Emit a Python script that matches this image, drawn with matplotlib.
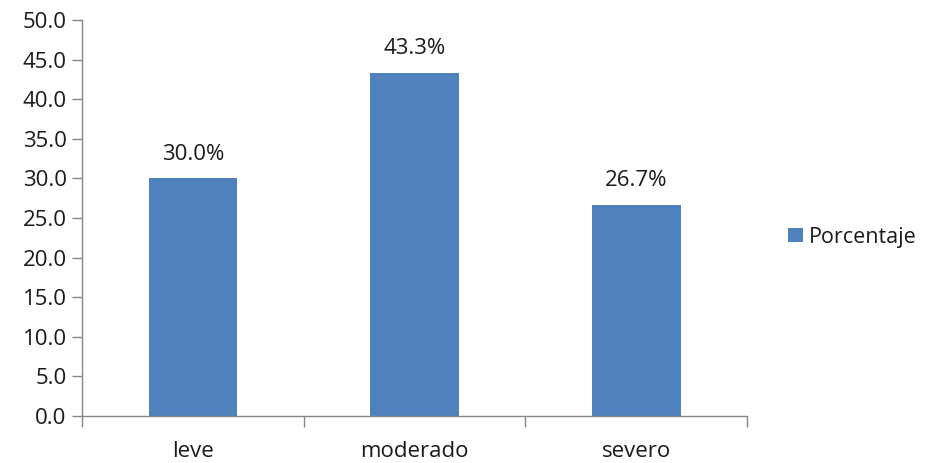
import matplotlib.pyplot as plt
import numpy as np

categories = ["leve", "moderado", "severo"]
values = [30.0, 43.3, 26.7]
value_labels = ["30.0%", "43.3%", "26.7%"]
y_ticks = [0, 5, 10, 15, 20, 25, 30, 35, 40, 45, 50]
series_name = "Porcentaje"

bar_color = "#4f81bd"
axis_color = "#868686"
text_color = "#1a1a1a"
fs = 16

plt.rcParams["font.family"] = ["Open Sans", "DejaVu Sans"]

fig = plt.figure(figsize=(9.28, 4.63), dpi=100)
ax = fig.add_axes([82 / 928, 1 - 416 / 463, (747 - 82) / 928, (416 - 20) / 463])

x = np.arange(len(categories))
bars = ax.bar(x, values, width=0.4, color=bar_color, label=series_name, zorder=2)

for b, lab in zip(bars, value_labels):
    ax.annotate(lab, (b.get_x() + b.get_width() / 2, b.get_height()),
                xytext=(0, 10), textcoords="offset points",
                ha="center", va="bottom", fontsize=fs, color=text_color)

ax.set_xlim(-0.5, len(categories) - 0.5)
ax.set_ylim(0, 50)
ax.set_yticks(y_ticks)
ax.set_yticklabels([f"{v:.1f}" for v in y_ticks])

ax.set_xticks(x)
ax.set_xticklabels(categories)
ax.set_xticks(np.arange(-0.5, len(categories)), minor=True)
ax.tick_params(axis="x", which="major", length=0, pad=18, labelsize=fs, labelcolor=text_color)
ax.tick_params(axis="x", which="minor", length=8, color=axis_color, width=1)
ax.tick_params(axis="y", length=7, color=axis_color, width=1, pad=4, labelsize=fs, labelcolor=text_color)

for side in ["top", "right"]:
    ax.spines[side].set_visible(False)
for side in ["left", "bottom"]:
    ax.spines[side].set_color(axis_color)
    ax.spines[side].set_linewidth(1)

fig.legend(loc="center left", bbox_to_anchor=(788 / 928, 1 - 237 / 463),
           frameon=False, fontsize=15.5, handlelength=0.68, handleheight=0.68,
           handletextpad=0.3, borderpad=0, borderaxespad=0, labelcolor=text_color)

fig.savefig("out.png", dpi=100)
